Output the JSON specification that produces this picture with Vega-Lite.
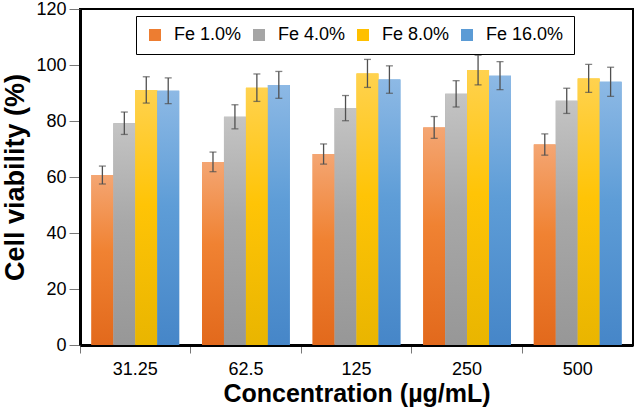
{
  "$schema": "https://vega.github.io/schema/vega-lite/v6.json",
  "width": 553,
  "height": 336,
  "autosize": "none",
  "padding": {"left": 80, "top": 9, "right": 4, "bottom": 70},
  "background": "white",
  "config": {
    "font": "Liberation Sans",
    "view": {"stroke": "black", "strokeWidth": 2}
  },
  "data": {
    "values": [
      {"conc": "31.25", "group": "Fe 1.0%", "v": 60.7, "e": 3.2},
      {"conc": "31.25", "group": "Fe 4.0%", "v": 79.2, "e": 4.0},
      {"conc": "31.25", "group": "Fe 8.0%", "v": 91.1, "e": 4.7},
      {"conc": "31.25", "group": "Fe 16.0%", "v": 90.8, "e": 4.6},
      {"conc": "62.5", "group": "Fe 1.0%", "v": 65.4, "e": 3.5},
      {"conc": "62.5", "group": "Fe 4.0%", "v": 81.5, "e": 4.3},
      {"conc": "62.5", "group": "Fe 8.0%", "v": 91.9, "e": 4.9},
      {"conc": "62.5", "group": "Fe 16.0%", "v": 92.9, "e": 4.8},
      {"conc": "125", "group": "Fe 1.0%", "v": 68.2, "e": 3.6},
      {"conc": "125", "group": "Fe 4.0%", "v": 84.6, "e": 4.5},
      {"conc": "125", "group": "Fe 8.0%", "v": 97.0, "e": 5.0},
      {"conc": "125", "group": "Fe 16.0%", "v": 94.8, "e": 4.9},
      {"conc": "250", "group": "Fe 1.0%", "v": 77.7, "e": 3.9},
      {"conc": "250", "group": "Fe 4.0%", "v": 89.7, "e": 4.7},
      {"conc": "250", "group": "Fe 8.0%", "v": 98.2, "e": 5.3},
      {"conc": "250", "group": "Fe 16.0%", "v": 96.2, "e": 5.0},
      {"conc": "500", "group": "Fe 1.0%", "v": 71.6, "e": 3.8},
      {"conc": "500", "group": "Fe 4.0%", "v": 87.2, "e": 4.5},
      {"conc": "500", "group": "Fe 8.0%", "v": 95.2, "e": 5.0},
      {"conc": "500", "group": "Fe 16.0%", "v": 94.0, "e": 5.2}
    ]
  },
  "transform": [
    {"calculate": "datum.v - datum.e", "as": "lo"},
    {"calculate": "datum.v + datum.e", "as": "hi"}
  ],
  "encoding": {
    "x": {
      "field": "conc", "type": "nominal",
      "scale": {"domain": ["31.25", "62.5", "125", "250", "500"], "paddingInner": 0, "paddingOuter": 0},
      "axis": {
        "title": "Concentration (µg/mL)", "titleFontSize": 25, "titleFontWeight": "bold",
        "titleColor": "black", "titlePadding": 3,
        "labelAngle": 0, "labelFontSize": 18, "labelColor": "black", "labelPadding": 7,
        "bandPosition": 0, "tickColor": "#777", "tickSize": 8, "tickWidth": 1,
        "domainColor": "black", "domainWidth": 3
      }
    },
    "xOffset": {
      "field": "group", "type": "nominal",
      "scale": {"domain": ["Fe 1.0%", "Fe 4.0%", "Fe 8.0%", "Fe 16.0%"], "paddingInner": 0, "paddingOuter": 0.52}
    },
    "y": {
      "field": "v", "type": "quantitative",
      "scale": {"domain": [0, 120]},
      "axis": {
        "title": "Cell viability (%)", "titleFontSize": 27, "titleFontWeight": "bold",
        "titleColor": "black", "titlePadding": 6,
        "values": [0, 20, 40, 60, 80, 100, 120],
        "labelFontSize": 18, "labelColor": "black", "labelPadding": 3,
        "tickColor": "#777", "tickSize": 11, "tickWidth": 1, "grid": false,
        "domainColor": "black", "domainWidth": 3
      }
    }
  },
  "layer": [
    {
      "mark": {"type": "bar"},
      "encoding": {
        "color": {
          "field": "group", "type": "nominal",
          "scale": {"domain": ["Fe 1.0%", "Fe 4.0%", "Fe 8.0%", "Fe 16.0%"], "range": ["#ED7D31", "#A5A5A5", "#FFC000", "#5B9BD5"]},
          "legend": {
            "title": null, "orient": "none", "direction": "horizontal",
            "legendX": 56, "legendY": 7,
            "symbolType": "square", "symbolSize": 144, "symbolStrokeWidth": 0,
            "labelFontSize": 18, "labelColor": "black", "labelOffset": 10,
            "columnPadding": 8,
            "strokeColor": "black", "padding": 10,
            "fillColor": "white"
          }
        }
      }
    },
    {
      "transform": [{"filter": "datum.group === 'Fe 1.0%'"}],
      "mark": {"type": "bar", "color": {"gradient": "linear", "x1": 0, "y1": 0, "x2": 0, "y2": 1,
        "stops": [{"offset": 0, "color": "#F4A673"}, {"offset": 0.45, "color": "#F08232"}, {"offset": 1, "color": "#E2691C"}]}}
    },
    {
      "transform": [{"filter": "datum.group === 'Fe 4.0%'"}],
      "mark": {"type": "bar", "color": {"gradient": "linear", "x1": 0, "y1": 0, "x2": 0, "y2": 1,
        "stops": [{"offset": 0, "color": "#C4C4C4"}, {"offset": 0.45, "color": "#A8A8A8"}, {"offset": 1, "color": "#979797"}]}}
    },
    {
      "transform": [{"filter": "datum.group === 'Fe 8.0%'"}],
      "mark": {"type": "bar", "color": {"gradient": "linear", "x1": 0, "y1": 0, "x2": 0, "y2": 1,
        "stops": [{"offset": 0, "color": "#FFD24F"}, {"offset": 0.45, "color": "#FFC406"}, {"offset": 1, "color": "#E9B500"}]}}
    },
    {
      "transform": [{"filter": "datum.group === 'Fe 16.0%'"}],
      "mark": {"type": "bar", "color": {"gradient": "linear", "x1": 0, "y1": 0, "x2": 0, "y2": 1,
        "stops": [{"offset": 0, "color": "#8DB9E5"}, {"offset": 0.45, "color": "#5E9DD7"}, {"offset": 1, "color": "#4686C8"}]}}
    },
    {
      "mark": {"type": "rule", "color": "#505050", "strokeWidth": 1.3},
      "encoding": {
        "y": {"field": "lo", "type": "quantitative"},
        "y2": {"field": "hi"}
      }
    },
    {
      "mark": {"type": "tick", "color": "#505050", "size": 7, "thickness": 1.3},
      "encoding": {"y": {"field": "lo", "type": "quantitative"}}
    },
    {
      "mark": {"type": "tick", "color": "#505050", "size": 7, "thickness": 1.3},
      "encoding": {"y": {"field": "hi", "type": "quantitative"}}
    }
  ]
}
